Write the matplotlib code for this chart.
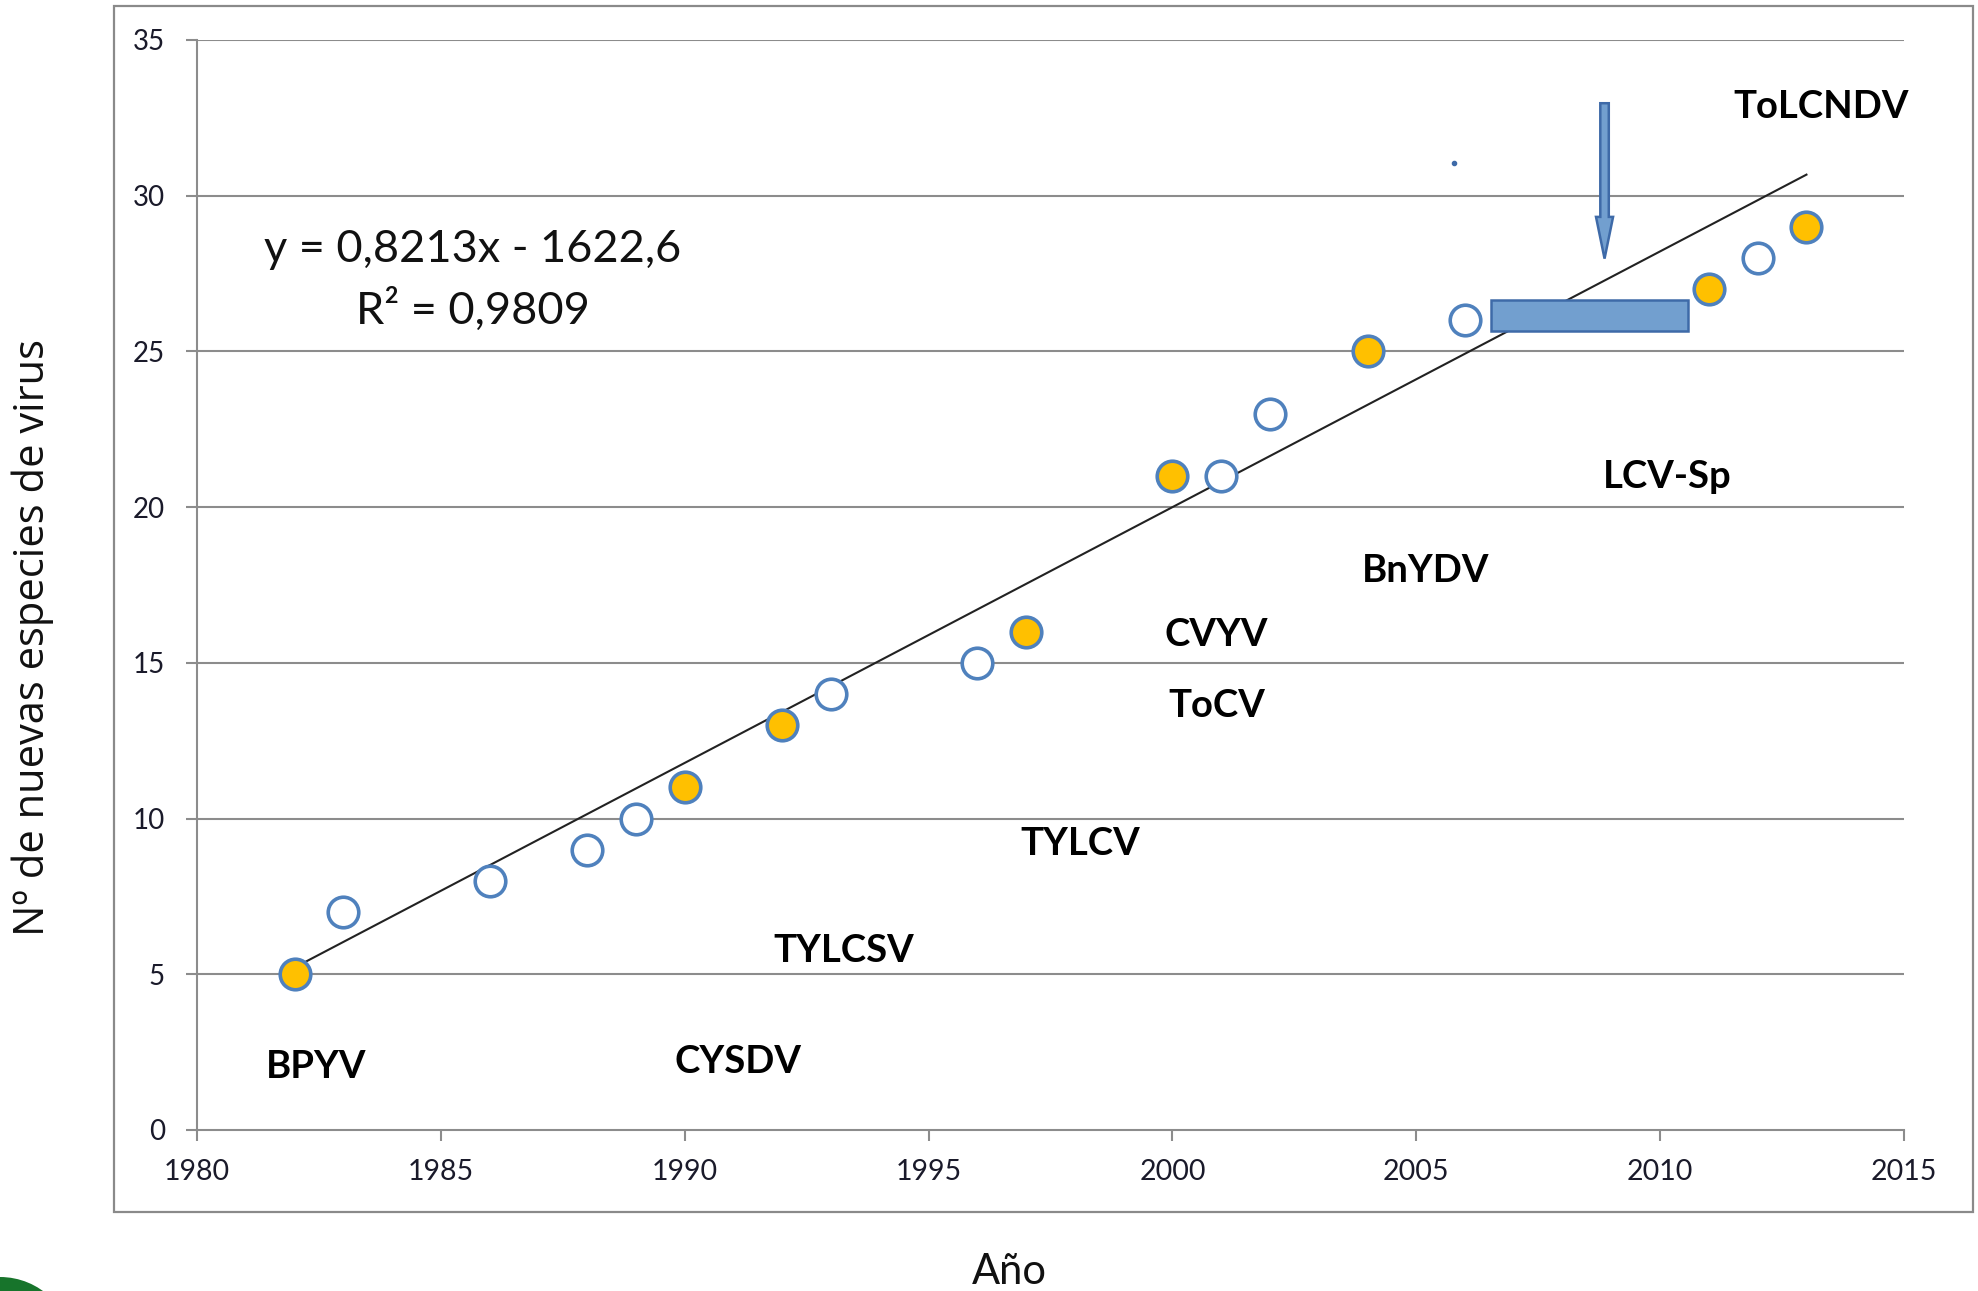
import matplotlib
matplotlib.use("Agg")
import matplotlib.pyplot as plt
import matplotlib.patches as mpatches
import numpy as np

# ---------------- data ----------------
years_filled = [1982, 1990, 1992, 1997, 2000, 2004, 2011, 2013]
counts_filled = [5, 11, 13, 16, 21, 25, 27, 29]
years_open = [1983, 1986, 1988, 1989, 1993, 1996, 2001, 2002, 2006, 2012]
counts_open = [7, 8, 9, 10, 14, 15, 21, 23, 26, 28]

trend_slope = 0.8213
trend_intercept = -1622.6
trend_range = [1982, 2013]

virus_names = ["ToLCNDV", "LCV-Sp", "BnYDV", "CVYV", "ToCV",
               "TYLCV", "TYLCSV", "CYSDV", "BPYV"]
virus_x = [2013.3, 2010.15, 2005.2, 2000.9, 2000.9, 1998.1, 1993.27, 1991.1, 1982.45]
virus_y = [32.85, 20.98, 17.94, 15.9, 13.6, 9.19, 5.74, 2.18, 2.02]

eq_text = "y = 0,8213x - 1622,6"
r2_text = "R² = 0,9809"

x_ticks = [1980, 1985, 1990, 1995, 2000, 2005, 2010, 2015]
y_ticks = [0, 5, 10, 15, 20, 25, 30, 35]

xlabel = "Año"
ylabel = "Nº de nuevas especies de virus"

# ---------------- figure ----------------
plt.rcParams['font.family'] = ['Lato', 'DejaVu Sans']
W, H = 1978, 1291
fig = plt.figure(figsize=(W / 100, H / 100), dpi=100)

def fx(px):
    return px / W

def fy(py):
    return 1 - py / H

# outer frame
frame = mpatches.Rectangle((fx(114), fy(1212)), fx(1973) - fx(114), fy(6) - fy(1212),
                           transform=fig.transFigure, fill=False,
                           edgecolor='#8a8a8a', linewidth=1.6, zorder=0)
fig.patches.append(frame)

# partial green logo at lower-left corner
logo = mpatches.Ellipse((fx(0), fy(1350)), 146 / W, 146 / H, transform=fig.transFigure,
                        facecolor='#17742b', edgecolor='none', zorder=0)
fig.patches.append(logo)

ax = fig.add_axes([fx(197), fy(1130), fx(1904) - fx(197), fy(40) - fy(1130)])
ax.set_xlim(1980, 2015)
ax.set_ylim(0, 35)

grid_c = '#8c8c8c'
for yv in y_ticks[1:]:
    ax.axhline(yv, color=grid_c, lw=1.5, zorder=1)

for s in ['top', 'right']:
    ax.spines[s].set_visible(False)
for s in ['left', 'bottom']:
    ax.spines[s].set_color(grid_c)
    ax.spines[s].set_linewidth(1.5)

ax.set_xticks(x_ticks)
ax.set_yticks(y_ticks)
ax.tick_params(axis='x', direction='out', length=8, width=1.5, color=grid_c,
               labelsize=20.5, pad=13, labelcolor='#1a1a2a')
ax.tick_params(axis='y', direction='out', length=8, width=1.5, color=grid_c,
               labelsize=20, pad=15, labelcolor='#1a1a2a')

# trendline
tx = np.array(trend_range, dtype=float)
ax.plot(tx, trend_slope * tx + trend_intercept, color='#222222', lw=1.5, zorder=2)

edge_c = '#4f81bd'
ax.plot(years_open, counts_open, 'o', ms=22, mfc='white', mec=edge_c, mew=2.6,
        zorder=3, clip_on=False)
ax.plot(years_filled, counts_filled, 'o', ms=22, mfc='#ffc000', mec=edge_c, mew=2.6,
        zorder=3, clip_on=False)

# virus labels
for name, x, y in zip(virus_names, virus_x, virus_y):
    ax.text(x, y, name, fontsize=27.5, fontweight='bold', ha='center', va='center',
            color='black', zorder=5)

# equation
ax.text(1985.66, 28.27, eq_text, fontsize=32.5, ha='center', va='center', color='#111')
ax.text(1985.66, 26.33, r2_text, fontsize=32.5, ha='center', va='center', color='#111')

# block rectangle
rect = mpatches.Rectangle((2006.53, 25.67), 2010.57 - 2006.53, 26.65 - 25.67,
                          facecolor='#729fcf', edgecolor='#3e6aa8', lw=1.8, zorder=4)
ax.add_patch(rect)

# block arrow (pointing down)
arr_top, arr_bottom, arr_head = 32.97, 27.98, 29.32
arr = mpatches.FancyArrow(2008.86, arr_top, 0, -(arr_top - arr_bottom), width=0.174,
                          head_width=0.35, head_length=arr_head - arr_bottom,
                          length_includes_head=True, facecolor='#729fcf',
                          edgecolor='#3e6aa8', lw=1.8, zorder=4)
ax.add_patch(arr)

# tiny stray dot
ax.plot([2005.78], [31.05], 'o', ms=3, color='#3e6aa8', zorder=4)

# axis titles
fig.text(fx(33), fy(637), ylabel, rotation=90, fontsize=30, ha='center', va='center',
         color='#111', family=['Open Sans', 'DejaVu Sans'])
fig.text(fx(1009), fy(1272), xlabel, fontsize=30, ha='center', va='center', color='#111')

fig.savefig("out.png", dpi=100)
